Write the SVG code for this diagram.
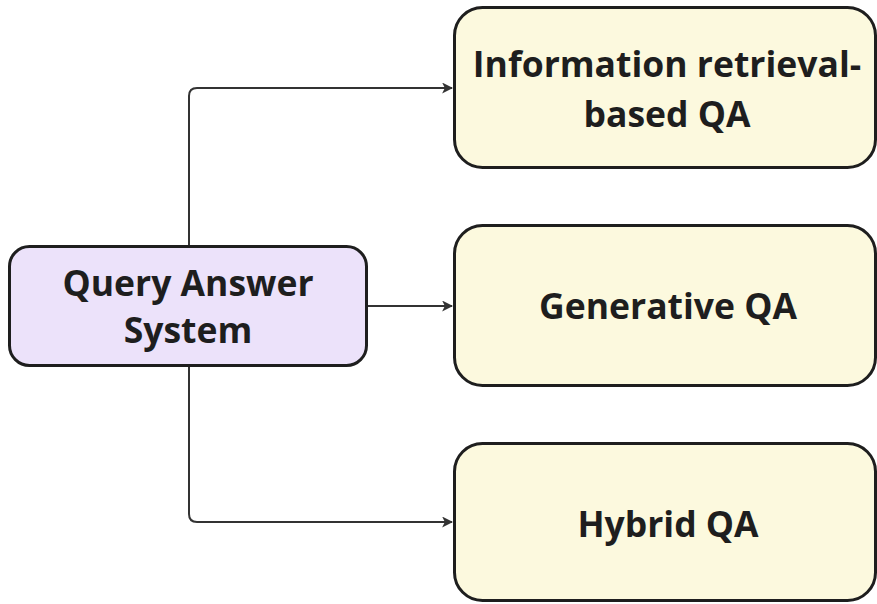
<svg xmlns="http://www.w3.org/2000/svg" width="877" height="604" viewBox="0 0 877 604">
<defs>
<marker id="arr" viewBox="0 0 10 10" refX="9" refY="5" markerWidth="11" markerHeight="11" markerUnits="userSpaceOnUse" orient="auto">
<path d="M0,0 L10,5 L0,10 L2.5,5 z" fill="#333"/>
</marker>
<style>
.node rect{stroke:#1e1e1e;stroke-width:3}
.src rect{fill:#ECE2FA}
.dst rect{fill:#FCF9DE}
text{font-family:"Open Sans","Noto Sans",sans-serif;font-weight:700;font-size:35.5px;fill:#1e1e1e;text-anchor:middle}
.conn path{fill:none;stroke:#333;stroke-width:2}
</style>
</defs>
<rect width="877" height="604" fill="#fff"/>
<g class="conn" id="connectors">
<path d="M189,246 V96 Q189,88 197,88 H452" marker-end="url(#arr)"/>
<path d="M366,306 H452" marker-end="url(#arr)"/>
<path d="M189,366 V514 Q189,522 197,522 H452" marker-end="url(#arr)"/>
</g>
<g class="node src" id="query">
<rect x="9.5" y="246.5" width="357" height="119" rx="20"/>
<text x="188" y="296">Query Answer</text>
<text x="188" y="343">System</text>
</g>
<g class="node dst" id="irqa">
<rect x="454.5" y="7.5" width="421" height="160" rx="28"/>
<text x="667" y="77">Information retrieval-</text>
<text x="667" y="127">based QA</text>
</g>
<g class="node dst" id="genqa">
<rect x="454.5" y="225.5" width="421" height="160" rx="28"/>
<text x="668" y="319">Generative QA</text>
</g>
<g class="node dst" id="hybqa">
<rect x="454.5" y="443.5" width="421" height="157" rx="28"/>
<text x="668" y="537">Hybrid QA</text>
</g>
</svg>
